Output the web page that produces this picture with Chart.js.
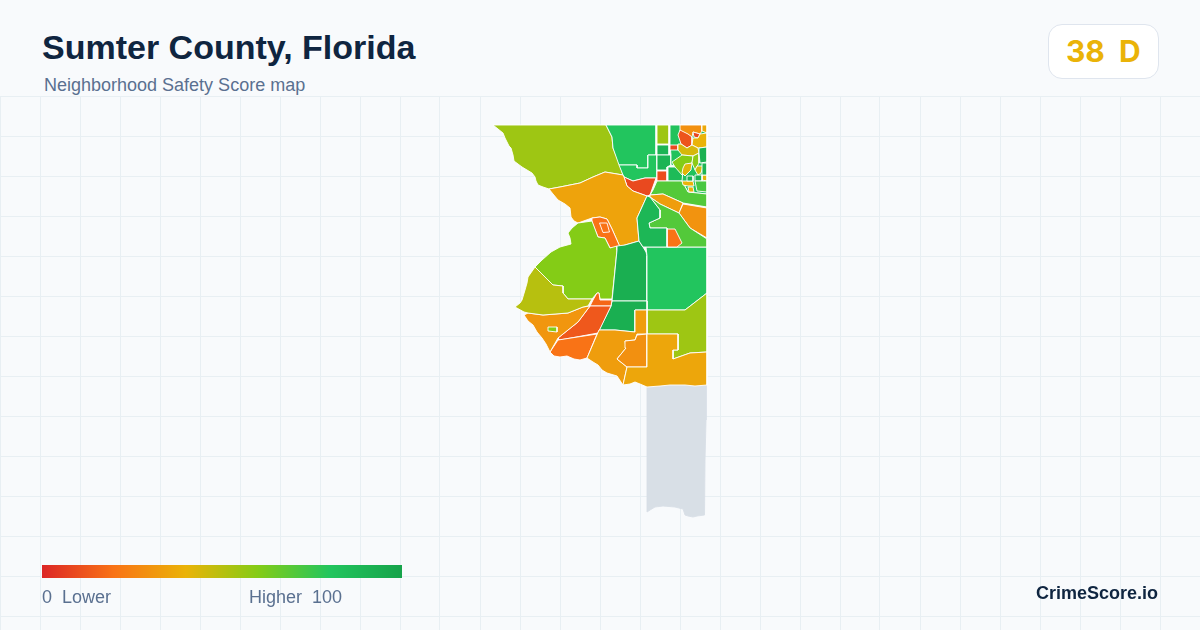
<!DOCTYPE html>
<html lang="en">
  <head>
    <meta charset="utf-8">
    <title>Sumter County, Florida</title>
    <script src="https://cdn.jsdelivr.net/npm/chart.js@4/dist/chart.umd.min.js"></script>
    <style>
      html, body { margin: 0; padding: 0; width: 1200px; height: 630px; overflow: hidden; background: #f8fafc; font-family: "Liberation Sans", Arial, sans-serif; }
      #map { position: absolute; left: 0; top: 96px; }
      .txt { position: absolute; white-space: pre; }
      #title { left: 42px; top: 27px; font-size: 34px; line-height: 40px; font-weight: 700; color: #0f2540; }
      #sub { left: 44px; top: 75px; font-size: 18px; line-height: 20px; color: #5a7090; }
      #badge { position: absolute; left: 1048px; top: 24px; width: 109px; height: 53px; background: #fff; border: 1px solid #dfe5ee; border-radius: 14px; }
      #grade { left: 1066px; top: 33px; font-family: Inter, sans-serif; font-size: 30px; line-height: 36px; font-weight: 700; color: #eab308; }
      #bar { position: absolute; left: 42px; top: 565px; width: 360px; height: 13px; }
      #low { left: 42px; top: 587px; font-size: 18px; line-height: 20px; color: #5a7090; }
      #high { left: 249px; top: 587px; font-size: 18px; line-height: 20px; color: #5a7090; }
      #brand { right: 42px; top: 582px; font-size: 18px; line-height: 22px; font-weight: 700; color: #0f2540; }
    </style>
  </head>
  <body>
    <canvas id="map" width="1200" height="534"></canvas>
    <div class="txt" id="title">Sumter County, Florida</div>
    <div class="txt" id="sub">Neighborhood Safety Score map</div>
    <div id="badge"></div>
    <div class="txt" id="grade">38  D</div>
    <div id="bar"></div>
    <div class="txt" id="low">0  Lower</div>
    <div class="txt" id="high">Higher  100</div>
    <div class="txt" id="brand">CrimeScore.io</div>
    <script>
      const scaleStops = [0, 20, 40, 60, 80, 100];
      const scaleColors = ['#dc2626', '#f97316', '#eab308', '#84cc16', '#22c55e', '#16a34a'];
      const noDataColor = '#d8dfe6';
      const gridX = [0, 40, 80, 120, 160, 200, 240, 280, 320, 360, 400, 440, 480, 520, 560, 600, 640, 680, 720, 760, 800, 840, 880, 920, 960, 1000, 1040, 1080, 1120, 1160];
      const gridY = [96, 136, 176, 216, 256, 296, 336, 376, 416, 456, 496, 536, 576, 616];

      // outlines are [lon-ish, lat-ish]
      const south = [[647,385],[655,386],[665,385],[680,385],[706,385],[706,420],[705,460],[704.5,515],[697,516],[693,517],[688,516],[685,515],[683,509],[675,507],[663,506],[655,507],[650,510],[647,512]];
      const northWest = [[493,125],[498,129],[503,133],[505,138],[507,142],[509,146],[511,148],[513,155],[514,161],[518,164],[522,167],[527,170],[532,173],[535,177],[536,181],[538,185],[543,187],[549,189],[560,187],[580,183],[593,177],[605,172],[623,175],[618,160],[613,148],[612,137],[606,125]];
      const northTop = [[606,125],[656,125],[656,155],[648,155],[648,168],[637,168],[637,165],[619,165],[613,148],[612,137]];
      const northMid = [[619,165],[637,165],[637,168],[648,168],[648,155],[657,155],[657,178],[645,178],[633,181],[624,177],[623,175]];
      const redWedge = [[624,177],[633,181],[645,178],[656,178],[650,195],[647,196],[633,191],[627,186]];
      const bigOrange = [[549,189],[560,187],[580,183],[593,177],[605,172],[623,175],[624,177],[627,186],[633,191],[647,196],[637,218],[639,241],[625,245],[620,247],[612,229],[607,219],[600,217],[592,218],[578,223],[574,221],[571,217],[570,208],[565,204],[558,200],[553,194]];
      const lakeOrange = [[592,218],[600,217],[607,219],[612,229],[620,247],[610,248],[605,238],[598,237],[592,222]];
      const lakeInner = [[599.5,223],[607,223],[609.5,232],[603,232.5]];
      const westLime = [[578,223],[592,221],[598,237],[605,238],[610,248],[617,246],[617,250],[612,299],[600,299],[599,293],[597,293],[592,299],[568,299],[563,293],[563,286],[553,285],[535,267],[542,260],[551,252],[560,247],[571,244],[570,238],[568,233],[572,228]];
      const centerDark = [[617,246],[625,245],[639,241],[643,247],[646,252],[647,256],[647,301],[612,301],[617,250]];
      const eastGreen = [[646,247],[707,247],[707,293],[685,310],[647,310],[647,256]];
      const eastLime = [[647,310],[685,310],[707,293],[707,352],[690,353],[673,359],[673,350],[678,350],[678,334],[647,334]];
      const lowerDark = [[612,301],[647,301],[647,310],[635,310],[635,332],[615,330],[599,330],[611,306]];
      const stripOrange = [[593,300],[597,293],[599,293],[600,300],[612,300],[611,306],[590,306]];
      const deepOrange = [[590,306],[611,306],[598,333],[560,340],[558,338],[578,322]];
      const lowerOrange = [[558,340],[597,334],[587,358],[580,360],[574,359],[567,356],[560,357],[554,356],[550,352]];
      const westOrange = [[524,315],[528,313],[543,315],[568,313],[583,307],[590,306],[578,322],[558,338],[550,352],[546,344],[542,338],[537,332],[533,325],[528,321]];
      const lakeLime = [[548,327],[557,327],[557,332],[548,331]];
      const westOlive = [[535,267],[553,285],[563,286],[563,293],[568,299],[592,299],[588,306],[583,307],[568,313],[543,315],[528,313],[524,312],[515,307],[520,303],[522,300],[525,290],[527,283],[528,277]];
      const southOrange = [[599,330],[615,330],[635,332],[635,310],[647,310],[647,334],[637,334],[635,340],[625,341],[626,348],[617,359],[627,367],[623,385],[617,376],[607,373],[602,370],[598,365],[593,362],[587,358]];
      const innerOrange = [[637,335],[647,334],[647,367],[627,367],[617,359],[626,348],[625,341],[635,340]];
      const southAmber = [[647,334],[678,334],[678,350],[673,350],[673,359],[690,353],[707,352],[707,385],[695,386],[685,385],[670,385],[660,386],[647,387],[640,384],[635,382],[630,384],[623,385],[627,367],[647,367]];
      const limeStrip = [[657,125],[669,125],[669,144],[657,144]];
      const cellA = [[657,145],[669,145],[669,155],[657,155]];
      const cellB = [[657,155],[671,155],[671,165],[667,167],[667,170],[657,170]];
      const redSquare = [[657,171],[667,171],[667,181],[657,181]];
      const cellC = [[668,167],[680,167],[683,170],[683,181],[668,181]];
      const neBase = [[670,125],[707,125],[707,194],[688,192],[682,181],[683,170],[680,167],[671,165],[671,155],[670,145]];
      const bandGreen = [[653,190],[657,181],[682,181],[688,192],[707,194],[707,207],[683,203],[663,194],[650,195]];
      const stripeOrange = [[650,195],[663,194],[683,203],[679,213],[660,204],[650,197]];
      const rightOrange = [[683,204],[707,208],[707,238],[690,228],[679,213]];
      const midGreen = [[650,197],[660,204],[679,213],[690,228],[707,239],[707,247],[667,247],[667,228],[650,228],[649,223],[660,218],[660,210]];
      const midOrange = [[667,229],[675,229],[682,243],[677,247],[667,247]];
      const midDark = [[647,196],[650,197],[660,210],[660,218],[649,223],[650,228],[667,228],[667,247],[643,247],[639,241],[637,218]];
      const topBand = [[680,125],[702,125],[702,131],[700,134],[693,132],[692,137],[688,135],[680,131]];
      const redBlob = [[680,130],[688,134],[692,137],[692,145],[687,148],[681,144],[678,135]];
      const redSmall = [[693,132],[700,134],[698,138],[694,137]];
      const amberTop = [[702,125],[707,125],[707,133],[702,131]];
      const amberRight = [[693,138],[698,138],[700,134],[707,133],[707,147],[698,148],[692,145]];
      const redTiny = [[670,145],[678,145],[678,150],[670,150]];
      const amberBand = [[678,144],[681,144],[687,148],[692,145],[698,148],[699,153],[693,156],[682,155],[678,150]];
      const neLime = [[672,162],[682,155],[693,156],[692,163],[685,165],[682,175],[675,167]];
      const neLimeRight = [[693,156],[699,153],[699,163],[695,170],[692,163]];
      const neDark = [[699,148],[707,147],[707,162],[700,163],[699,153]];
      const amberBlob = [[685,164],[692,163],[691,170],[685,176],[682,173],[683,168]];
      const amberDrop = [[697,166],[703,166],[701,173],[698,175],[695,170]];
      const amberLow = [[682,181],[693,181],[694,186],[688,186],[683,185]];
      const amberFoot = [[688,187],[693,187],[694,192],[689,192]];
      const amberEdge = [[702,175],[707,175],[707,181],[702,180]];
      const darkCellA = [[687,176],[693,176],[693,181],[687,181]];
      const darkCellB = [[695,175],[702,175],[702,181],[695,181]];
      const darkCellC = [[702,163],[707,163],[707,175],[702,175]];
      const neGreenLow = [[695,181],[707,181],[707,192],[697,191]];

      const regionOutlines = [south, northWest, northTop, northMid, redWedge, bigOrange, lakeOrange, lakeInner, westLime, centerDark, eastGreen, eastLime, lowerDark, stripOrange, deepOrange, lowerOrange, westOrange, lakeLime, westOlive, southOrange, innerOrange, southAmber, limeStrip, cellA, cellB, redSquare, cellC, neBase, bandGreen, stripeOrange, rightOrange, midGreen, midOrange, midDark, topBand, redBlob, redSmall, amberTop, amberRight, redTiny, amberBand, neLime, neLimeRight, neDark, amberBlob, amberDrop, amberLow, amberFoot, amberEdge, darkCellA, darkCellB, darkCellC, neGreenLow];
      const regionScores = [null, 55, 80, 80, 9, 35, 20, 20, 60, 93, 80, 55, 93, 17, 13, 20, 31, 60, 50, 33, 29, 36, 55, 90, 90, 10, 86, 82, 70, 33, 30, 70, 20, 88, 29, 12, 8, 37, 40, 9, 44, 60, 58, 92, 42, 46, 40, 40, 42, 92, 92, 90, 72];

      function hexToRgb(hex) {
        return [1, 3, 5].map(i => parseInt(hex.slice(i, i + 2), 16));
      }

      function scoreColor(score) {
        if (score === null) return noDataColor;
        let i = 0;
        while (i < scaleStops.length - 2 && score > scaleStops[i + 1]) i++;
        const t = (score - scaleStops[i]) / (scaleStops[i + 1] - scaleStops[i]);
        const a = hexToRgb(scaleColors[i]);
        const b = hexToRgb(scaleColors[i + 1]);
        return 'rgb(' + a.map((v, k) => Math.round(v + (b[k] - v) * t)).join(',') + ')';
      }

      document.getElementById('bar').style.background = 'linear-gradient(90deg,' + scaleColors.join(',') + ')';

      // chart.js draws the first dataset on top, so reverse
      const datasets = regionOutlines.map((outline, i) => ({
        data: outline.concat([outline[0]]).map(p => ({ x: p[0], y: p[1] })),
        showLine: true,
        fill: 'shape',
        tension: 0,
        backgroundColor: scoreColor(regionScores[i]),
        borderColor: regionScores[i] === null ? noDataColor : '#ffffff',
        borderWidth: 0.9,
        borderJoinStyle: 'round',
        pointRadius: 0,
        pointHoverRadius: 0
      })).reverse();

      const gridOptions = { color: '#e8eff3', lineWidth: 1, drawTicks: false };

      new Chart(document.getElementById('map').getContext('2d'), {
        type: 'scatter',
        data: { datasets: datasets },
        options: {
          responsive: false,
          animation: false,
          layout: { padding: 0 },
          plugins: { legend: { display: false }, tooltip: { enabled: false } },
          scales: {
            x: {
              type: 'linear', min: 0, max: 1200,
              grid: gridOptions, border: { display: false },
              ticks: { display: false },
              afterBuildTicks: axis => { axis.ticks = gridX.map(v => ({ value: v })); }
            },
            y: {
              type: 'linear', min: 96, max: 630, reverse: true,
              grid: gridOptions, border: { display: false },
              ticks: { display: false },
              afterBuildTicks: axis => { axis.ticks = gridY.map(v => ({ value: v })); }
            }
          }
        }
      });
    </script>
  </body>
</html>
